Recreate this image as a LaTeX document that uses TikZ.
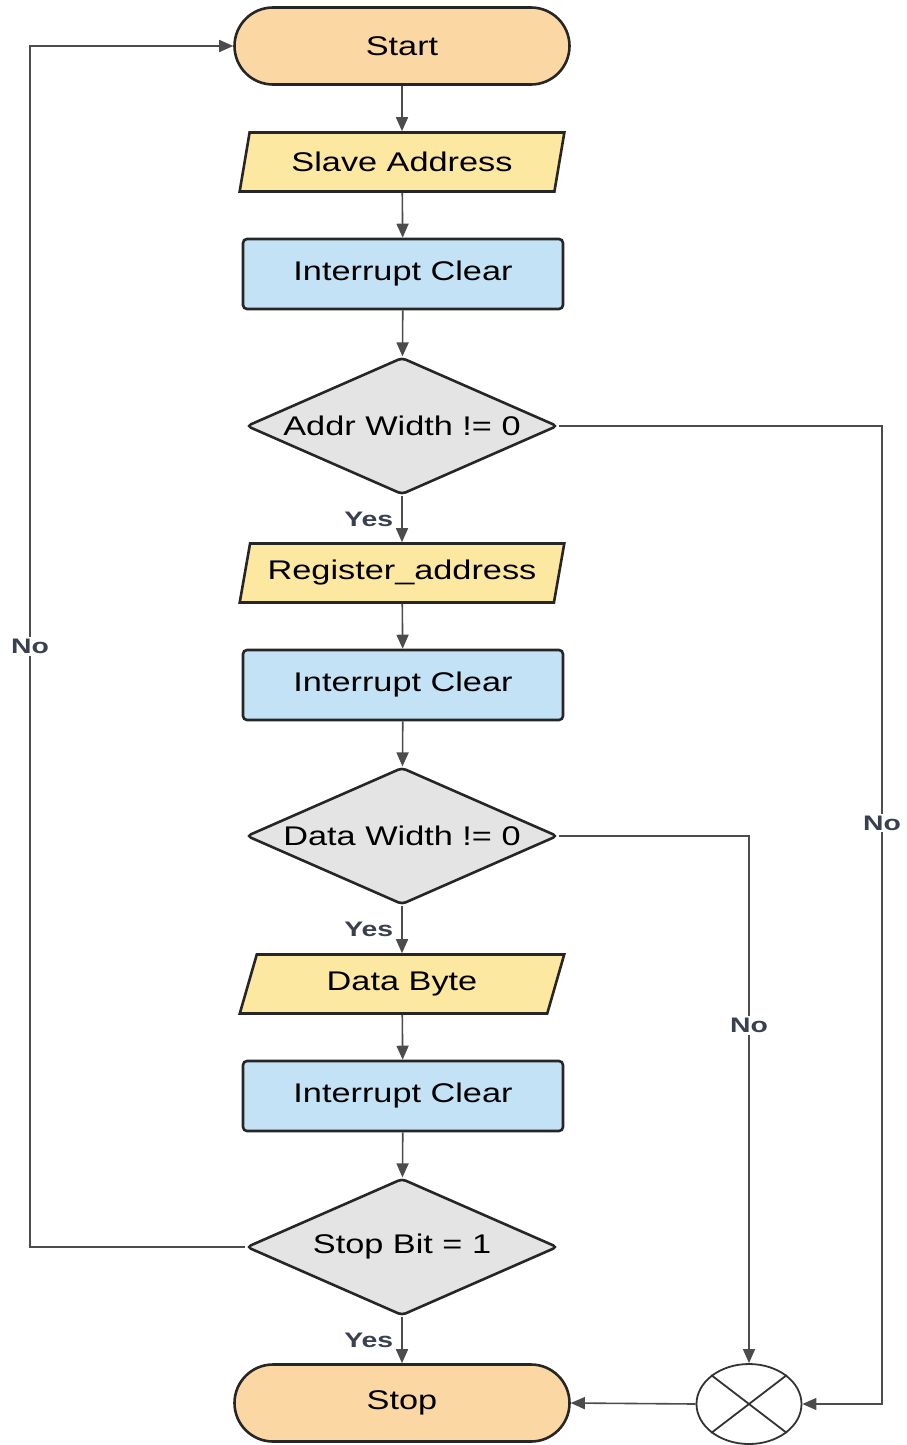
\documentclass[tikz,border=0pt]{standalone}
\usepackage{fontspec}
\setmainfont{Liberation Sans}[FakeStretch=1.27]
\newfontfamily\lblfont{Liberation Sans}[FakeStretch=1.35]
\usepackage{xcolor}
\usetikzlibrary{shapes.geometric}
\usetikzlibrary{shapes.misc}
\usetikzlibrary{arrows.meta}
\definecolor{termfill}{RGB}{250,215,163}
\definecolor{iofill}{RGB}{252,232,160}
\definecolor{procfill}{RGB}{195,226,245}
\definecolor{decfill}{RGB}{228,228,228}
\definecolor{lblcol}{RGB}{58,64,78}
\tikzset{
  box/.style = {align=center, inner sep=0pt, font=\fontsize{27}{30}\selectfont, line width=2.6pt, draw=black!85},
  term/.style = {box, rounded rectangle, fill=termfill, minimum width=335pt, minimum height=77pt},% start / stop
  io/.style = {box, trapezium, trapezium left angle=70, trapezium right angle=110, trapezium stretches=true, fill=iofill, minimum width=325pt, minimum height=59pt},
  proc/.style = {box, rectangle, rounded corners=4pt, fill=procfill, minimum width=320pt, minimum height=70pt},
  dec/.style = {box, diamond, aspect=2.27, rounded corners=4pt, fill=decfill, minimum width=311pt, minimum height=137pt},
  merge/.style = {draw=black!80, line width=1.8pt, ellipse, fill=white, minimum width=105pt, minimum height=80pt},
  flow/.style = {draw=black!70, line width=1.6pt, -{Triangle[width=12pt,length=14pt]}},
  lbl/.style = {font=\lblfont\bfseries\fontsize{21}{22}\selectfont, text=lblcol, inner sep=2pt},
  no/.style = {lbl, fill=white},
  yes/.style = {lbl, anchor=east, xshift=-6pt}
}
\begin{document}
\begin{tikzpicture}[x=1pt,y=-1pt]
\useasboundingbox (0,0) rectangle (907,1445);
\coordinate (lrail) at (30,0);
\coordinate (rrail) at (882,0);

% main column
\node [term] (start) at (402,46) {Start};
\node [io] (slave) at (402,162) {Slave Address};
\node [proc] (ic1) at (403,274) {Interrupt Clear};
\node [dec] (d1) at (402,426) {Addr Width != 0};
\node [io] (reg) at (402,573) {Register\_address};
\node [proc] (ic2) at (403,685) {Interrupt Clear};
\node [dec] (d2) at (402,836) {Data Width != 0};
\node [io] (data) at (402,984) {Data Byte};
\node [proc] (ic3) at (403,1096) {Interrupt Clear};
\node [dec] (d3) at (402,1247) {Stop Bit = 1};
\node [term] (stop) at (402,1403) {Stop};
\node [merge] (x) at (749,1404) {};
\draw [black!80, line width=1.8pt] (x.north west) -- (x.south east) (x.north east) -- (x.south west);

\draw [flow] (start) -- (slave);
\draw [flow] (slave) -- (ic1);
\draw [flow] (ic1) -- (d1);
\draw [flow] (d1) -- node[yes] {Yes} (reg);
\draw [flow] (reg) -- (ic2);
\draw [flow] (ic2) -- (d2);
\draw [flow] (d2) -- node[yes] {Yes} (data);
\draw [flow] (data) -- (ic3);
\draw [flow] (ic3) -- (d3);
\draw [flow] (d3) -- node[yes] {Yes} (stop);

% the "No" branches
\draw [flow] (d3.west) -- (d3.west -| lrail) -- node[no] {No} (start.west -| lrail) -- (start.west);
\draw [flow] (d1.east) -- (d1.east -| rrail) -- node[no, pos=0.406] {No} (x.east -| rrail) -- (x.east);
\draw [flow] (d2.east) -| node[no, pos=0.68] {No} (x.north);
\draw [flow] (x.west) -- (stop.east);
\end{tikzpicture}
\end{document}
